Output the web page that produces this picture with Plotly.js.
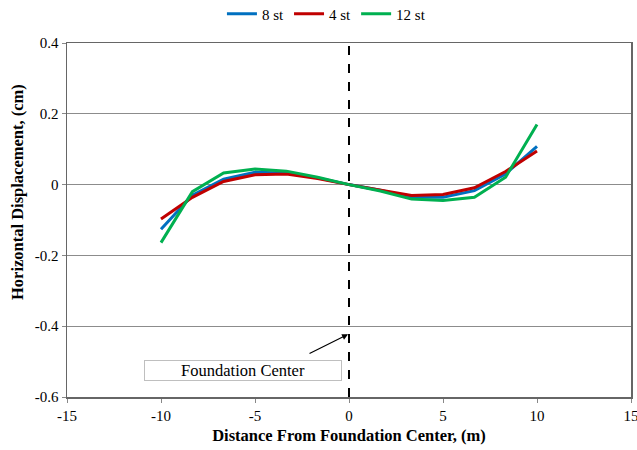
<!DOCTYPE html>
<html>
<head>
<meta charset="utf-8">
<script src="https://cdn.plot.ly/plotly-3.0.1.min.js"></script>
<style>
body{margin:0;padding:0;background:#fff;}
</style>
</head>
<body>
<div id="chart" style="width:637px;height:450px"></div>
<script>
const distance = [-10, -8.33, -6.67, -5, -3.33, -1.67, 0, 1.67, 3.33, 5, 6.67, 8.33, 10];
const st8  = [-0.126, -0.030, 0.015, 0.035, 0.033, 0.019, 0, -0.016, -0.036, -0.036, -0.017, 0.030, 0.108];
const st4  = [-0.097, -0.036, 0.009, 0.028, 0.030, 0.017, 0, -0.015, -0.031, -0.028, -0.009, 0.037, 0.095];
const st12 = [-0.164, -0.020, 0.033, 0.044, 0.038, 0.021, 0, -0.018, -0.041, -0.045, -0.036, 0.021, 0.170];
const seriesNames = ['8 st', '4 st', '12 st'];
const centerLineX = [0, 0];
const centerLineY = [-0.6, 0.4];
const xTicks = [-15, -10, -5, 0, 5, 10, 15];
const xTickLabels = ['-15', '-10', '-5', '0', '5', '10', '15'];
const yTicks = [-0.6, -0.4, -0.2, 0, 0.2, 0.4];
const yTickLabels = ['-0.6', '-0.4', '-0.2', '0', '0.2', '0.4'];

const font = 'Liberation Serif';
const traces = [
  {x: distance, y: st8, name: seriesNames[0], mode: 'lines', line: {color: '#0070C0', width: 3}},
  {x: distance, y: st4, name: seriesNames[1], mode: 'lines', line: {color: '#C00000', width: 3}},
  {x: distance, y: st12, name: seriesNames[2], mode: 'lines', line: {color: '#00B050', width: 3}},
  {x: centerLineX, y: centerLineY, mode: 'lines', showlegend: false, hoverinfo: 'skip',
   line: {color: '#000', width: 2, dash: 'dash'}}
];
const layout = {
  width: 637, height: 450,
  margin: {l: 67, r: 6, t: 43, b: 53, autoexpand: false},
  paper_bgcolor: '#fff', plot_bgcolor: '#fff',
  font: {family: font, size: 15},
  showlegend: true,
  legend: {orientation: 'h', x: 0.46, xanchor: 'center', y: 1.082, yanchor: 'middle',
           font: {family: font, size: 15, color: '#000'}, itemwidth: 30, tracegroupgap: 0},
  xaxis: {range: [-15, 15], tickvals: xTicks, ticktext: xTickLabels, showgrid: false, zeroline: false,
          showline: true, linecolor: '#666', linewidth: 1.5, mirror: true,
          ticks: 'outside', ticklen: 4, tickcolor: '#888', ticklabeloverflow: 'allow',
          tickfont: {family: font, size: 15, color: '#000'},
          title: {text: '<b>Distance From Foundation Center, (m)</b>', font: {family: font, size: 16.5, color: '#000'}, standoff: 7}},
  yaxis: {range: [-0.6, 0.4], tickvals: yTicks, ticktext: yTickLabels, showgrid: true,
          gridcolor: '#8c8c8c', gridwidth: 1, zeroline: false,
          showline: true, linecolor: '#666', linewidth: 1.5, mirror: true,
          ticks: 'outside', ticklen: 4, tickcolor: '#888',
          tickfont: {family: font, size: 15, color: '#000'}},
  annotations: [
    {x: -0.0887, y: 0.579, xref: 'paper', yref: 'paper', text: '<b>Horizontal Displacement, (cm)</b>',
     textangle: -90, showarrow: false, xanchor: 'center', yanchor: 'middle',
     font: {family: font, size: 16.5, color: '#000'}},
    {x: -5.64, y: -0.525, xref: 'x', yref: 'y', text: 'Foundation Center', showarrow: false,
     font: {family: font, size: 16.5, color: '#000'}, bgcolor: '#fff', bordercolor: '#bfbfbf',
     borderwidth: 1, width: 194, height: 17, borderpad: 1},
    {x: -0.05, y: -0.423, xref: 'x', yref: 'y', text: '', showarrow: true,
     ax: -2.18, ay: -0.479, axref: 'x', ayref: 'y', arrowhead: 2, arrowsize: 1, arrowwidth: 1.2, arrowcolor: '#000'}
  ]
};
function draw() {
  Plotly.newPlot('chart', traces, layout, {displayModeBar: false, staticPlot: true});
}
if (document.fonts && document.fonts.load) {
  Promise.all([
    document.fonts.load('15px "Liberation Serif"'),
    document.fonts.load('bold 16px "Liberation Serif"')
  ]).then(draw, draw);
} else {
  draw();
}
</script>
</body>
</html>
